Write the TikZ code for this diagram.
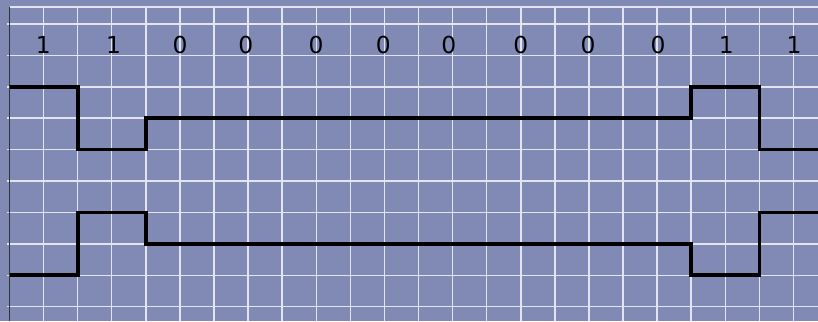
\documentclass[tikz,border=0pt]{standalone}
\usepackage{fontspec}
\setmainfont{DejaVu Sans}
\definecolor{fond}{RGB}{128,138,181}
\definecolor{grille}{RGB}{226,229,241}
\def\xmax{23.72}
\def\ytop{0.541}
\def\ybot{-9.46}

\begin{document}
\begin{tikzpicture}[x=1cm,y=0.9214cm,
    grid line/.style={grille,line width=1.2pt},
    signal/.style={black,line width=3.1pt},
    bit/.style={font=\fontsize{19.5}{22}\selectfont,inner sep=0pt}]
        %
        \fill[fond] (-0.279,0.764) rectangle (\xmax,-9.459); % fond
        \useasboundingbox (-0.279,0.764) rectangle (\xmax,-9.459);
        %
        \foreach \i in {1,...,23}
          \draw[grid line] (\i,\ytop) -- (\i,\ybot);
        \foreach \j in {0,...,9}
          \draw[grid line] (-0.08,-\j) -- (\xmax,-\j);
        \draw[grid line] (0,\ytop) -- (\xmax,\ytop);
        \draw[gray!40!black,line width=0.9pt] (0,\ytop) -- (0,\ybot); % axe
        %
        \draw[signal] (0,-2) -- (2,-2) -- (2,-4) -- (4,-4) -- (4,-3) -- (20,-3)
          -- (20,-2) -- (22,-2) -- (22,-4) -- (\xmax,-4); % signal 1
        \draw[signal] (0,-8) -- (2,-8) -- (2,-6) -- (4,-6) -- (4,-7) -- (20,-7)
          -- (20,-8) -- (22,-8) -- (22,-6) -- (\xmax,-6); % signal 2
        %
        \foreach \x/\b [count=\k] in {0.99/1,3.05/1,5.0/0,6.93/0,8.99/0,10.97/0,
            12.89/0,15.0/0,16.97/0,19.03/0,21.03/1,23.02/1}
          \node[bit] (bit\k) at (\x,-0.66) {\b};
      \end{tikzpicture}
\end{document}
